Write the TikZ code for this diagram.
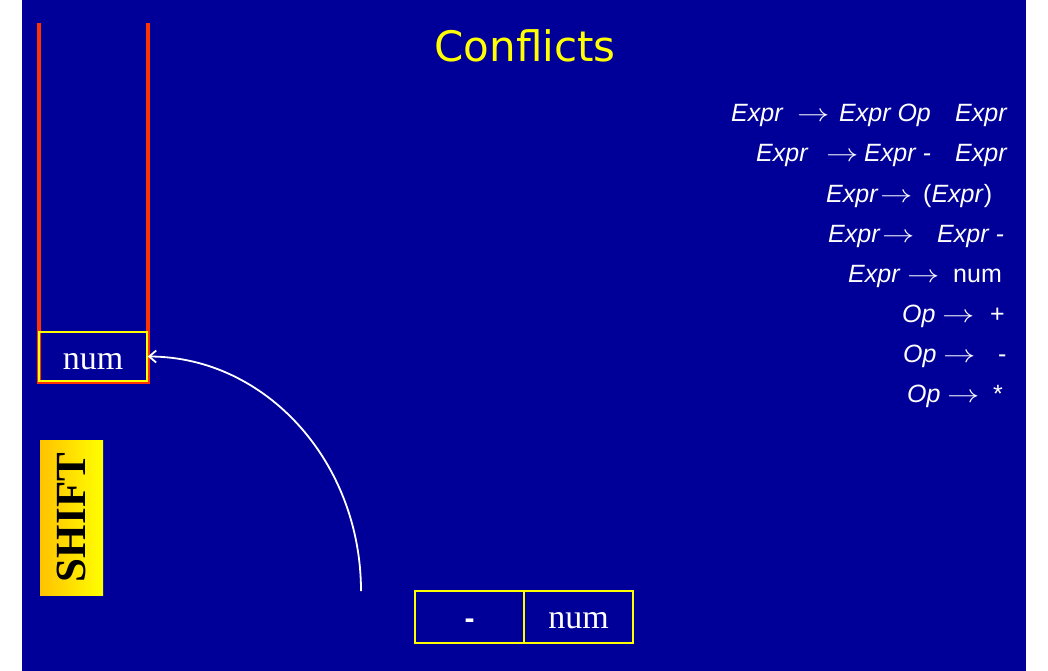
\documentclass[tikz,border=0pt]{standalone}
\usepackage{fontspec}
\setmainfont{Liberation Serif}
\newfontfamily\gramfamily{Liberation Sans}
\newfontfamily\titlefamily{DejaVu Sans}
\usetikzlibrary{arrows.meta}
\definecolor{bgblue}{HTML}{000099}
\definecolor{stackred}{HTML}{FF3300}
\definecolor{gold}{HTML}{FFC200}
\definecolor{titleyellow}{HTML}{FFFF00}
\newcommand{\garrow}{\scalebox{1.3}[1]{$\rightarrow$}}
\tikzset{
  gr/.style={text=white, inner sep=0pt, anchor=base west, font=\gramfamily\fontsize{25}{30}\selectfont},
  cell/.style={draw=titleyellow, line width=1.6pt, text=white, inner sep=0pt,
    minimum width=108pt, font=\fontsize{34}{40}\selectfont},
  stackline/.style={draw=stackred, line width=4pt},
}
\begin{document}
\begin{tikzpicture}[x=1pt,y=-1pt]
\useasboundingbox (0,0) rectangle (1048,671);
\fill[white] (0,0) rectangle (1048,671);
\fill[bgblue] (22,0) rectangle (1026,671);
% title
\node[text=titleyellow, inner sep=0pt, anchor=base, font=\titlefamily\fontsize{42}{48}\selectfont] (title) at (525,62) {Conflicts};
% stack
\draw[stackline] (39,23) -- (39,382) -- (148,382) -- (148,23);
\node[cell, text height=37pt, text depth=12pt] (top) at (93,356.5) {num};
% input
\node[cell, minimum width=109pt, text height=37pt, text depth=15pt, font=\gramfamily\bfseries\fontsize{30}{36}\selectfont] (minus) at (469.5,617) {-};
\node[cell, minimum width=109pt, text height=37pt, text depth=15pt] (num) at (578.5,617) {num};
% shift arrow
\coordinate (src) at (361,591);
\draw[white, line width=1.8pt, -{Straight Barb[length=7pt,width=12pt]}] (src) .. controls (361,462) and (266,357) .. (top.east);
% SHIFT label
\shade[left color=gold, right color=titleyellow] (40,440) rectangle (103,595);
\node[rotate=90, inner sep=0pt, text=black, font=\bfseries\fontsize{43}{50}\selectfont] (shift) at (71.5,517.5) {SHIFT};
% grammar
\node[gr] (g1a) at (731,122) {\textit{Expr}};
\node[gr] (g1b) at (797,122) {\garrow};
\node[gr] (g1c) at (839,122) {\textit{Expr Op}};
\node[gr] (g1d) at (955,122) {\textit{Expr}};
\node[gr] (g2a) at (756,162) {\textit{Expr}};
\node[gr] (g2b) at (826,162) {\garrow};
\node[gr] (g2c) at (864,162) {\textit{Expr -}};
\node[gr] (g2d) at (955,162) {\textit{Expr}};
\node[gr] (g3a) at (826,202) {\textit{Expr}};
\node[gr] (g3b) at (880,202) {\garrow};
\node[gr] (g3c) at (923,202) {(\textit{Expr})};
\node[gr] (g4a) at (828,242) {\textit{Expr}};
\node[gr] (g4b) at (882,242) {\garrow};
\node[gr] (g4c) at (937,242) {\textit{Expr -}};
\node[gr] (g5a) at (848,282) {\textit{Expr}};
\node[gr] (g5b) at (907,282) {\garrow};
\node[gr] (g5c) at (953,282) {num};
\node[gr] (g6a) at (902,322) {\textit{Op}};
\node[gr] (g6b) at (942,322) {\garrow};
\node[gr] (g6c) at (990,322) {+};
\node[gr] (g7a) at (903,362) {\textit{Op}};
\node[gr] (g7b) at (943,362) {\garrow};
\node[gr] (g7c) at (998,362) {-};
\node[gr] (g8a) at (907,402) {\textit{Op}};
\node[gr] (g8b) at (947,402) {\garrow};
\node[gr] (g8c) at (993,402) {*};
\end{tikzpicture}
\end{document}
